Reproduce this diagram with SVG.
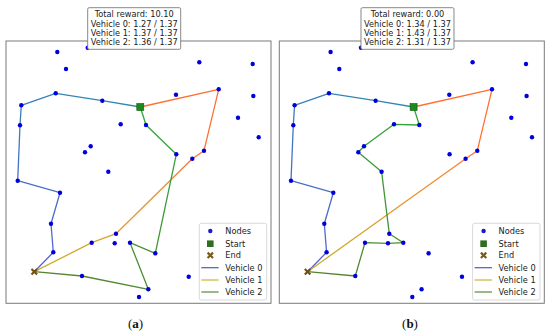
<svg xmlns="http://www.w3.org/2000/svg" width="550" height="334" viewBox="0 0 550 334">
<style>
text{font-family:"DejaVu Sans","Liberation Sans",sans-serif;font-size:8.2px;fill:#1a1a1a}
.t{text-anchor:middle}
.cap{font-family:"Liberation Serif","Times New Roman",serif;font-size:13px;text-anchor:middle;fill:#111}
.frame{fill:#fff;stroke:#7a7a7a;stroke-width:1}
.n{fill:#0000dd}
.r{fill:none;stroke-width:1.3;stroke-linejoin:round;stroke-linecap:round}
.tb{fill:#fff;stroke:#7a7a7a;stroke-width:0.9}
.lg{fill:#fff;fill-opacity:0.85;stroke:#cfcfcf;stroke-width:0.8}
.st{fill:#1a8a1a;stroke:#0a5a0a;stroke-width:0.6}
.en{stroke:#6e5016;stroke-width:2.1;stroke-linecap:butt}
</style>
<defs>
<linearGradient id="g0" gradientUnits="userSpaceOnUse" x1="140.3" y1="107" x2="34.3" y2="271.7"><stop offset="0" stop-color="#2a8cb0"/><stop offset="1" stop-color="#5c5cd6"/></linearGradient>
<linearGradient id="g1" gradientUnits="userSpaceOnUse" x1="140.3" y1="107" x2="34.3" y2="271.7"><stop offset="0" stop-color="#ff7030"/><stop offset="0.25" stop-color="#f08c30"/><stop offset="1" stop-color="#c4b428"/></linearGradient>
<linearGradient id="g2" gradientUnits="userSpaceOnUse" x1="140.3" y1="107" x2="34.3" y2="271.7"><stop offset="0" stop-color="#2ca83a"/><stop offset="1" stop-color="#5a8232"/></linearGradient>
<g id="nodes">
<circle class="n" cx="57.3" cy="52" r="2.2"/><circle class="n" cx="87.7" cy="47.7" r="2.2"/><circle class="n" cx="66" cy="69" r="2.2"/><circle class="n" cx="199.3" cy="62.3" r="2.2"/><circle class="n" cx="252.7" cy="64" r="2.2"/><circle class="n" cx="218.7" cy="89.3" r="2.2"/><circle class="n" cx="253.3" cy="96" r="2.2"/><circle class="n" cx="55.7" cy="93.3" r="2.2"/><circle class="n" cx="21.3" cy="105.3" r="2.2"/><circle class="n" cx="102.3" cy="100.7" r="2.2"/><circle class="n" cx="176" cy="94.7" r="2.2"/><circle class="n" cx="238" cy="117.7" r="2.2"/><circle class="n" cx="20" cy="125.3" r="2.2"/><circle class="n" cx="120.7" cy="124.3" r="2.2"/><circle class="n" cx="146" cy="125" r="2.2"/><circle class="n" cx="258.7" cy="137.3" r="2.2"/><circle class="n" cx="90.7" cy="146.3" r="2.2"/><circle class="n" cx="85" cy="152.3" r="2.2"/><circle class="n" cx="176.3" cy="154.3" r="2.2"/><circle class="n" cx="204" cy="150.7" r="2.2"/><circle class="n" cx="192.3" cy="158.7" r="2.2"/><circle class="n" cx="108.3" cy="171.7" r="2.2"/><circle class="n" cx="17.7" cy="180.7" r="2.2"/><circle class="n" cx="60" cy="192.7" r="2.2"/><circle class="n" cx="51" cy="223.7" r="2.2"/><circle class="n" cx="116" cy="233.7" r="2.2"/><circle class="n" cx="91.7" cy="242.7" r="2.2"/><circle class="n" cx="114.7" cy="243.3" r="2.2"/><circle class="n" cx="130" cy="242.7" r="2.2"/><circle class="n" cx="155.3" cy="253.3" r="2.2"/><circle class="n" cx="53.3" cy="252.3" r="2.2"/><circle class="n" cx="82" cy="276" r="2.2"/><circle class="n" cx="188.7" cy="276.7" r="2.2"/><circle class="n" cx="148.3" cy="289.3" r="2.2"/><circle class="n" cx="139" cy="297" r="2.2"/>
</g>
<g id="legend">
<rect class="lg" x="199.3" y="223.3" width="67.4" height="76.7" rx="2"/>
<circle cx="210.3" cy="231" r="2.2" fill="#1a1ad0"/><text x="225.3" y="234">Nodes</text>
<rect x="207" y="240.4" width="6.6" height="6.6" fill="#2e6e1e"/><text x="225.3" y="246.6">Start</text>
<path d="M207.6,252.6 L213,258 M213,252.6 L207.6,258" stroke="#7a5a1e" stroke-width="2.2"/><text x="225.3" y="258.3">End</text>
<line x1="201.3" y1="267.7" x2="218.7" y2="267.7" stroke="#4a5cc0" stroke-width="1.2"/><text x="225.3" y="270.7">Vehicle 0</text>
<line x1="201.3" y1="280" x2="218.7" y2="280" stroke="#c8b830" stroke-width="1.2"/><text x="225.3" y="283">Vehicle 1</text>
<line x1="201.3" y1="292" x2="218.7" y2="292" stroke="#5a8a3a" stroke-width="1.2"/><text x="225.3" y="295">Vehicle 2</text>
</g>
</defs>

<g id="plot-a">
<rect class="frame" x="6" y="41" width="265" height="262.3"/>
<g id="a-connectors">
<path class="r" stroke="url(#g0)" d="M140.3,107 L102.3,100.7 L55.7,93.3 L21.3,105.3 L20,125.3 L17.7,180.7 L60,192.7 L51,223.7 L53.3,252.3 L34.3,271.7"/>
<path class="r" stroke="url(#g1)" d="M140.3,107 L218.7,89.3 L204,150.7 L192.3,158.7 L116,233.7 L91.7,242.7 L34.3,271.7"/>
<path class="r" stroke="url(#g2)" d="M140.3,107 L146,125 L176.3,154.3 L155.3,253.3 L130,242.7 L148.3,289.3 L82,276 L34.3,271.7"/>
</g>
<g id="a-nodes"><use href="#nodes"/></g>
<g id="a-start"><rect class="st" x="136.8" y="103.5" width="7" height="7"/></g>
<g id="a-end"><path class="en" d="M31.5,268.9 L37.1,274.5 M37.1,268.9 L31.5,274.5"/></g>
<g id="a-legend"><use href="#legend"/></g>
<g id="a-title">
<rect class="tb" x="87.7" y="7.7" width="93" height="41.6" rx="1.5"/>
<text class="t" x="134.2" y="17.2">Total reward: 10.10</text>
<text class="t" x="134.2" y="26.5">Vehicle 0: 1.27 / 1.37</text>
<text class="t" x="134.2" y="35.8">Vehicle 1: 1.37 / 1.37</text>
<text class="t" x="134.2" y="45.1">Vehicle 2: 1.36 / 1.37</text>
</g>
<text class="cap" x="135.5" y="327.5">(<tspan font-weight="bold">a</tspan>)</text>
</g>

<g id="plot-b" transform="translate(273.3,0)">
<rect class="frame" x="6" y="41" width="265" height="262.3"/>
<g id="b-connectors">
<path class="r" stroke="url(#g0)" d="M140.3,107 L102.3,100.7 L55.7,93.3 L21.3,105.3 L20,125.3 L17.7,180.7 L60,192.7 L51,223.7 L53.3,252.3 L34.3,271.7"/>
<path class="r" stroke="url(#g1)" d="M140.3,107 L218.7,89.3 L204,150.7 L192.3,158.7 L34.3,271.7"/>
<path class="r" stroke="url(#g2)" d="M140.3,107 L146,125 L120.7,124.3 L90.7,146.3 L85,152.3 L108.3,171.7 L116,233.7 L130,242.7 L114.7,243.3 L91.7,242.7 L82,276 L34.3,271.7"/>
</g>
<g id="b-nodes"><use href="#nodes"/></g>
<g id="b-start"><rect class="st" x="136.8" y="103.5" width="7" height="7"/></g>
<g id="b-end"><path class="en" d="M31.5,268.9 L37.1,274.5 M37.1,268.9 L31.5,274.5"/></g>
<g id="b-legend"><use href="#legend"/></g>
<g id="b-title">
<rect class="tb" x="87.7" y="7.7" width="93" height="41.6" rx="1.5"/>
<text class="t" x="134.2" y="17.2">Total reward: 0.00</text>
<text class="t" x="134.2" y="26.5">Vehicle 0: 1.34 / 1.37</text>
<text class="t" x="134.2" y="35.8">Vehicle 1: 1.43 / 1.37</text>
<text class="t" x="134.2" y="45.1">Vehicle 2: 1.31 / 1.37</text>
</g>
<text class="cap" x="136.7" y="327.5">(<tspan font-weight="bold">b</tspan>)</text>
</g>
</svg>
